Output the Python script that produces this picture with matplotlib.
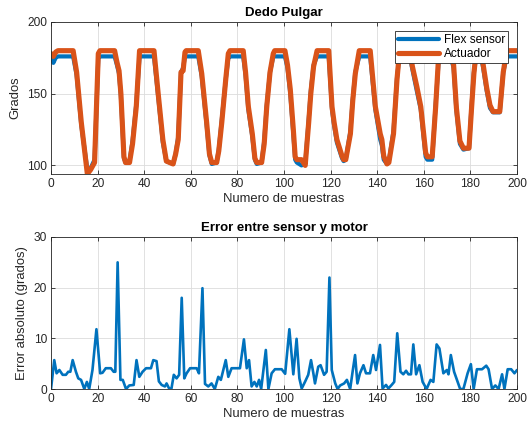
import matplotlib
matplotlib.use('Agg')
import matplotlib.pyplot as plt

# muestras y angulos en grados
muestras = [0, 1, 2, 3, 9.5, 11, 13, 15.6, 17, 18.7, 20.3, 21, 27.3, 28.3, 29.2, 30,
            31.3, 32, 33.7, 35, 36.6, 38, 44.2, 46, 48, 49.5, 52.4, 53.5, 54.6, 55.8,
            56.7, 57.5, 58, 63.2, 64.7, 66.8, 68, 69, 71.1, 72, 73.3, 75, 76.1, 76.8,
            82.5, 83.5, 84.7, 86.4, 87.5, 88.3, 90.4, 91.5, 92.6, 94, 95.4, 96, 100.4,
            101.5, 102.7, 104, 104.8, 105.5, 107.5, 109.1, 110.6, 111.5, 112.7, 114.2,
            119.2, 120.6, 121.5, 122.7, 124.9, 125.6, 126.5, 128.5, 129.5, 130.6, 132.3,
            137, 139.2, 141.3, 142, 142.8, 144.2, 145, 147, 148.5, 149.5, 150, 154,
            155.1, 157, 158.7, 160.8, 161.5, 163.6, 165.1, 166.5, 171.5, 172.8, 174,
            175.5, 177, 179.4, 180.5, 181.5, 182.5, 184.5, 185.5, 187, 188.4, 189.7,
            192.6, 194.1, 195.6, 200]
actuador = [178, 176, 179, 180, 180, 165, 130, 94, 97, 102, 178, 180, 180, 172, 166, 150,
            106, 102, 102, 115, 141, 180, 180, 150, 118, 103, 101, 108, 118, 165,
            166, 179, 180, 180, 164, 130, 108, 102, 102, 110, 130, 160, 178, 180,
            180, 165, 141, 122, 105, 102, 102, 115, 141, 165, 178, 180, 180,
            170, 153, 125, 106, 104, 104, 100, 130, 150, 169, 180,
            180, 141, 130, 118, 106.5, 104, 104, 122, 145, 164, 180,
            180, 141, 122, 118, 106.5, 101, 102, 122, 160, 178, 180, 180,
            169, 155, 141, 108.8, 106, 106, 141, 180, 180, 170, 140,
            117, 112, 112, 140, 164, 180, 180, 170, 154, 142, 137.5,
            137.5, 165, 180, 180]
flex = [178, 171.5, 175, 176, 176, 163, 128, 97, 98, 104, 175, 176, 176, 170, 164, 148,
        105, 102, 103, 117, 143, 176, 176, 148, 116, 103, 101, 108, 120, 165,
        168, 176, 176, 176, 162, 128, 107, 101, 102, 111, 132, 160, 175, 176,
        176, 163, 139, 120, 104, 101, 102, 117, 142, 165, 176, 176, 176,
        168, 150, 122, 104, 102, 100, 101, 132, 152, 170, 176,
        176, 139, 128, 116, 105, 103, 104, 124, 146, 165, 176,
        176, 139, 118, 114, 104, 101, 103, 124, 161, 176, 176, 176,
        167, 152, 139, 106, 104, 104, 143, 176, 176, 168, 138,
        115, 111, 112, 142, 165, 176, 176, 168, 152, 140, 137,
        137, 165, 176, 176]

# error absoluto
muestras_err = [0, 1.4, 2.4, 3.6, 5, 6.4, 7.4, 8.3, 9.3, 10.7, 11.7, 12.9, 14.3, 15.4, 16.4,
                17.8, 19.5, 21.1, 22.1, 23.5, 25.7, 26.9, 27.6, 28.6, 29.8, 30.8, 32.2,
                33.6, 35.5, 36.7, 37.9, 39.3, 40.8, 42.9, 43.9, 45.3, 46.3, 47.5, 48.9,
                49.6, 50.7, 51.7, 52.7, 53.9, 55, 56.1, 57.2, 58.2, 59.7, 62.5, 63.5, 65,
                66.1, 67.5, 68.9, 70.3, 71.8, 72.9, 75, 76.1, 77.5, 81.1, 82.8, 84, 85,
                86.1, 87.3, 88.3, 89.3, 90.2, 92.2, 93.3, 94.7, 96.1, 99, 100.5, 102.3,
                104, 105.4, 106.6, 107.6, 109, 110.4, 111.6, 112.6, 113.3, 114.7, 115.7,
                117.2, 118.3, 119.5, 120.5, 122, 123, 124.1, 125.8, 127, 128.4, 129.5,
                130.5, 131.5, 132.6, 134.1, 135.2, 136.9, 138.3, 139.5, 141.2, 142.3,
                143.8, 144.8, 146.2, 147.3, 148.6, 150, 151.2, 152.4, 153.4, 154.5,
                155.5, 156.7, 158.1, 159.5, 161.2, 162.9, 164.1, 165.5, 166.7, 168.4,
                169.9, 170.6, 171.6, 173, 174.2, 175.6, 177, 178.8, 180.2, 181.4, 182.8,
                185, 186.8, 187.8, 189.3, 190.7, 192.1, 193.6, 194.6, 196, 197.5, 198.9,
                200]
error_abs = [0, 5.7, 3.1, 3.75, 2.8, 2.8, 3.4, 3.4, 5.7, 3.4, 2.1, 1.8, 0, 1.4, 0,
             3.75, 11.8, 3.1, 3.2, 4.1, 4.1, 3.4, 3.4, 25, 1.8, 1.8, 0,
             0.7, 0.8, 5.7, 2.4, 3.4, 4.1, 4.1, 5.7, 5.5, 1.5, 0.8, 0.5,
             1.1, 0.1, 0.1, 2.8, 2.1, 2.8, 18, 2.1, 3.1, 4.1, 4.1, 3.1, 19.9,
             1.0, 0.5, 1.1, 0, 2.4, 1.8, 5.7, 2.4, 4.1, 4.1, 9.8, 4.1, 5.7,
             0.5, 1.4, 0.5, 1.8, 0, 7.7, 0, 3.1, 3.9, 3.9, 3.0, 11.8,
             2.9, 9.9, 2.1, 0.1, 1.4, 2.8, 5.7, 3.1, 1.1, 4.4, 4.7,
             2.8, 3.4, 22, 3.75, 1.1, 0, 0.7, 1.1, 1.8, 0, 3.6,
             6.7, 1.1, 3.1, 4.7, 3.1, 3.1, 6.7, 3.75, 8.7, 0.1,
             0.8, 0.1, 0.8, 1.4, 11, 3.4, 2.9, 3.6, 2.9, 2.9,
             8.8, 2.9, 4.7, 1.4, 0, 1.8, 1.4, 8.8, 8, 3.1,
             3.75, 2.9, 6.7, 3.4, 1.8, 0, 0, 3.1, 4.9, 0, 3.9,
             3.9, 4.6, 3.9, 0, 0.7, 0, 2.9, 0, 3.9, 3.9, 3.1,
             3.75]

azul = '#0072BD'
naranja = '#D95319'
gris = '#262626'

plt.rcParams['font.family'] = ['Liberation Sans', 'DejaVu Sans']
plt.rcParams['font.size'] = 8.6
plt.rcParams['lines.solid_joinstyle'] = 'round'
plt.rcParams['lines.solid_capstyle'] = 'round'

def estilo_matlab(ax):
    ax.grid(True, color='#dcdcdc', linewidth=0.6)
    ax.set_axisbelow(True)
    for s in ax.spines.values():
        s.set_color(gris)
        s.set_linewidth(0.6)
    ax.tick_params(direction='in', top=True, right=True, length=3,
                   width=0.6, colors=gris, labelsize=8.6, pad=3)
    ax.set_xlim(0, 200)
    ax.set_xticks(range(0, 201, 20))

fig = plt.figure(figsize=(5.3, 4.34), dpi=100)

ax1 = fig.add_axes([51 / 530, 1 - 174 / 434, 466 / 530, 152 / 434])
ax1.plot(muestras, flex, color=azul, linewidth=3.0, label='Flex sensor')
ax1.plot(muestras, actuador, color=naranja, linewidth=3.7, label='Actuador')
estilo_matlab(ax1)
ax1.set_ylim(94, 200)
ax1.set_yticks([100, 150, 200])
ax1.set_title('Dedo Pulgar', fontsize=9.5, fontweight='bold', color='k', pad=4)
ax1.set_xlabel('Numero de muestras', fontsize=9.4, color=gris, labelpad=2)
ax1.set_ylabel('Grados', fontsize=9.4, color=gris, labelpad=4)
leg = ax1.legend(loc='upper right', bbox_to_anchor=(1 - 9 / 466, 1 - 9 / 152),
                 borderaxespad=0, fancybox=False, framealpha=1, edgecolor=gris,
                 fontsize=8.6, handlelength=3.4, handletextpad=0.4,
                 borderpad=0.25, labelspacing=0.15)
leg.get_frame().set_linewidth(0.6)

ax2 = fig.add_axes([51 / 530, 1 - 389 / 434, 466 / 530, 152 / 434])
ax2.plot(muestras_err, error_abs, color=azul, linewidth=1.9)
estilo_matlab(ax2)
ax2.set_ylim(0, 30)
ax2.set_yticks([0, 10, 20, 30])
ax2.set_title('Error entre sensor y motor', fontsize=9.5, fontweight='bold', color='k', pad=4)
ax2.set_xlabel('Numero de muestras', fontsize=9.4, color=gris, labelpad=2)
ax2.set_ylabel('Error absoluto (grados)', fontsize=9.4, color=gris, labelpad=4)

fig.savefig('out.png', dpi=100)
